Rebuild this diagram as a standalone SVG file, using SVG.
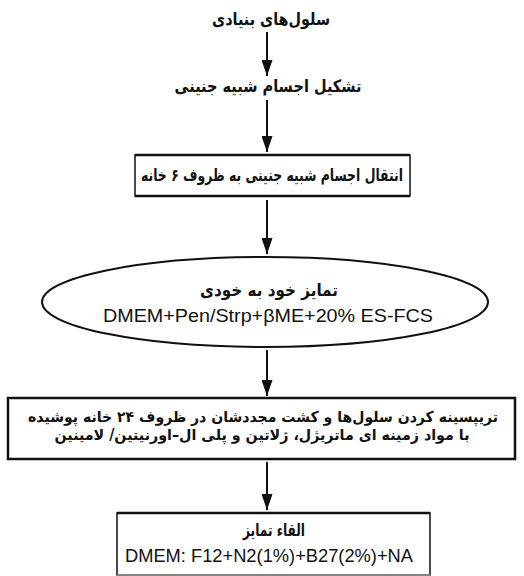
<svg xmlns="http://www.w3.org/2000/svg" width="524" height="576" viewBox="0 0 524 576">
<style>
.fa{font-family:"DejaVu Sans","Noto Sans",sans-serif;font-weight:bold;font-size:17px;fill:#111;direction:rtl;unicode-bidi:embed;text-anchor:middle}
.sm{font-size:15px}
.en{font-family:"Liberation Sans",Arial,sans-serif;font-size:18px;fill:#111;text-anchor:middle}
.box{fill:#fff;stroke:#111;stroke-width:1.5}
.edge{stroke:#111;stroke-width:2.5}
.arrow{stroke:#111;stroke-width:2;fill:none}
</style>
<defs>
<marker id="ah" markerWidth="16" markerHeight="11" refX="16" refY="5.5" orient="auto" markerUnits="userSpaceOnUse" viewBox="0 0 16 11">
<path d="M0,0 L16,5.5 L0,11 Z" fill="#111"/>
</marker>
</defs>
<rect width="524" height="576" fill="#fff"/>
<g id="connectors">
<line class="arrow" x1="267" y1="32" x2="267" y2="76" marker-end="url(#ah)"/>
<line class="arrow" x1="267" y1="100" x2="267" y2="152" marker-end="url(#ah)"/>
<line class="arrow" x1="267" y1="200" x2="267" y2="254" marker-end="url(#ah)"/>
<line class="arrow" x1="267" y1="350" x2="267" y2="396" marker-end="url(#ah)"/>
<line class="arrow" x1="267" y1="462" x2="267" y2="510" marker-end="url(#ah)"/>
</g>
<g id="n1">
<text class="fa" x="271" y="25" textLength="118" lengthAdjust="spacingAndGlyphs">سلول‌های بنیادی</text>
</g>
<g id="n2">
<text class="fa" x="268" y="92" textLength="187" lengthAdjust="spacingAndGlyphs">تشکیل اجسام شبیه جنینی</text>
</g>
<g id="n3">
<rect class="box" x="135" y="155" width="275" height="41"/>
<line class="edge" x1="135" y1="155" x2="410" y2="155"/>
<line class="edge" x1="135" y1="196" x2="410" y2="196"/>
<text class="fa" x="272" y="181" textLength="262" lengthAdjust="spacingAndGlyphs">انتقال اجسام شبیه جنینی به ظروف ۶ خانه</text>
</g>
<g id="n4">
<ellipse cx="265" cy="302" rx="223" ry="45" fill="#fff" stroke="#111" stroke-width="2"/>
<text class="fa" x="269" y="296" textLength="138" lengthAdjust="spacingAndGlyphs">تمایز خود به خودی</text>
<text class="en" x="268" y="322" textLength="330" lengthAdjust="spacingAndGlyphs">DMEM+Pen/Strp+βME+20% ES-FCS</text>
</g>
<g id="n5">
<rect x="8" y="398" width="507" height="61" fill="#fff" stroke="#111" stroke-width="2.5"/>
<text class="fa sm" x="263" y="422" textLength="470" lengthAdjust="spacingAndGlyphs">تریپسینه کردن سلول‌ها و کشت مجددشان در ظروف ۲۴ خانه پوشیده</text>
<text class="fa sm" x="262" y="440" textLength="415" lengthAdjust="spacingAndGlyphs">با مواد زمینه ای ماتریژل، ژلاتین و پلی ال–اورنیتین/ لامینین</text>
</g>
<g id="n6">
<rect class="box" x="117" y="513" width="313" height="62"/>
<line class="edge" x1="117" y1="513" x2="430" y2="513"/>
<line x1="117" y1="575" x2="430" y2="575" stroke="#999" stroke-width="1.5"/>
<text class="fa" x="274" y="536" textLength="62" lengthAdjust="spacingAndGlyphs">القاء تمایز</text>
<text class="en" x="269" y="562" textLength="288" lengthAdjust="spacingAndGlyphs">DMEM: F12+N2(1%)+B27(2%)+NA</text>
</g>
</svg>
